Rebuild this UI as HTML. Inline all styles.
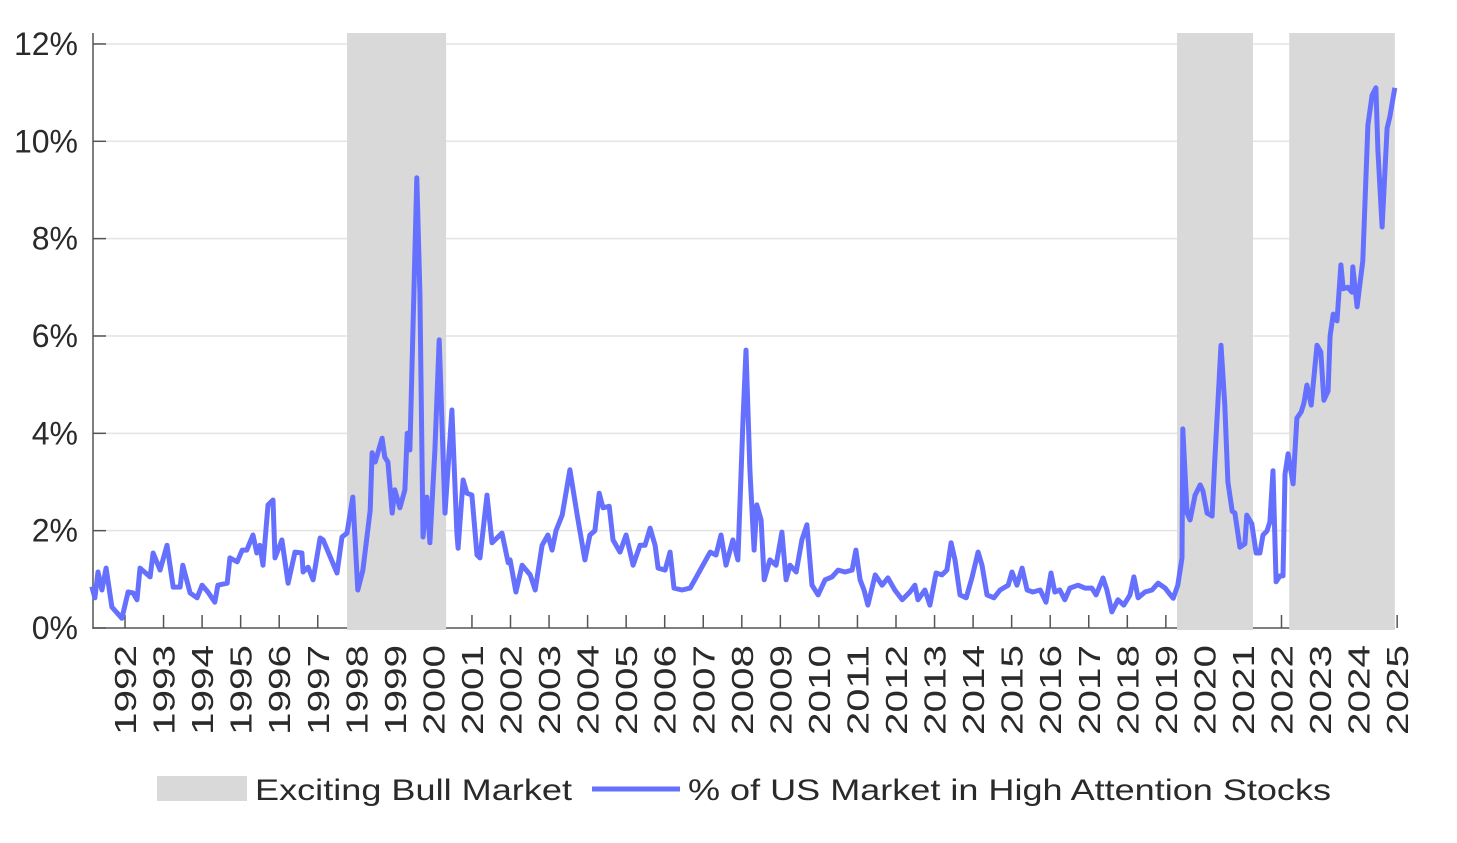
<!DOCTYPE html>
<html><head><meta charset="utf-8"><style>
html,body{margin:0;padding:0;background:#fff;}
svg{display:block;font-family:"Liberation Sans",sans-serif;}
</style></head><body>
<svg id="chart" width="1457" height="843" viewBox="0 0 1457 843"></svg>
<script>
const dates=[1991.14,1991.22,1991.30,1991.40,1991.51,1991.66,1991.92,1992.08,1992.21,1992.31,1992.39,1992.65,1992.73,1992.91,1993.09,1993.25,1993.43,1993.50,1993.69,1993.87,1994.00,1994.15,1994.33,1994.41,1994.65,1994.72,1994.91,1995.04,1995.16,1995.32,1995.42,1995.50,1995.58,1995.71,1995.84,1995.89,1996.07,1996.23,1996.41,1996.59,1996.62,1996.75,1996.88,1997.06,1997.14,1997.50,1997.63,1997.76,1997.91,1998.04,1998.17,1998.36,1998.41,1998.49,1998.67,1998.74,1998.82,1998.93,1999.00,1999.13,1999.26,1999.32,1999.39,1999.57,1999.65,1999.73,1999.83,1999.91,2000.04,2000.15,2000.30,2000.48,2000.61,2000.64,2000.77,2000.87,2001.00,2001.13,2001.21,2001.39,2001.52,2001.78,2001.94,2001.99,2002.14,2002.30,2002.51,2002.64,2002.82,2002.97,2003.08,2003.18,2003.34,2003.54,2003.73,2003.93,2004.06,2004.19,2004.30,2004.40,2004.56,2004.66,2004.84,2005.00,2005.18,2005.36,2005.49,2005.62,2005.75,2005.83,2006.01,2006.14,2006.24,2006.45,2006.66,2006.81,2006.99,2007.18,2007.33,2007.46,2007.59,2007.77,2007.90,2008.03,2008.11,2008.21,2008.32,2008.39,2008.50,2008.58,2008.73,2008.89,2009.04,2009.15,2009.25,2009.41,2009.56,2009.69,2009.82,2009.98,2010.16,2010.34,2010.50,2010.68,2010.86,2010.96,2011.07,2011.17,2011.27,2011.46,2011.64,2011.79,2011.97,2012.16,2012.36,2012.49,2012.57,2012.75,2012.88,2013.04,2013.19,2013.32,2013.43,2013.53,2013.66,2013.82,2013.97,2014.13,2014.23,2014.36,2014.54,2014.70,2014.91,2015.01,2015.14,2015.27,2015.40,2015.55,2015.74,2015.89,2016.02,2016.12,2016.25,2016.38,2016.51,2016.72,2016.90,2017.08,2017.19,2017.37,2017.47,2017.60,2017.76,2017.91,2018.07,2018.17,2018.28,2018.46,2018.64,2018.80,2018.98,2019.16,2019.19,2019.31,2019.42,2019.44,2019.55,2019.63,2019.76,2019.89,2019.96,2020.07,2020.20,2020.27,2020.43,2020.53,2020.61,2020.72,2020.79,2020.92,2021.05,2021.10,2021.23,2021.34,2021.44,2021.52,2021.62,2021.70,2021.78,2021.86,2021.96,2022.04,2022.09,2022.17,2022.30,2022.40,2022.51,2022.58,2022.66,2022.77,2022.92,2023.02,2023.10,2023.21,2023.26,2023.34,2023.44,2023.54,2023.60,2023.72,2023.83,2023.85,2023.96,2024.11,2024.24,2024.35,2024.45,2024.50,2024.61,2024.74,2024.81,2024.94];
const values=[0.85,0.62,1.15,0.78,1.23,0.43,0.2,0.74,0.72,0.58,1.23,1.05,1.54,1.19,1.7,0.84,0.84,1.29,0.72,0.62,0.88,0.74,0.53,0.88,0.92,1.44,1.36,1.6,1.6,1.91,1.54,1.7,1.29,2.53,2.63,1.44,1.81,0.92,1.56,1.54,1.15,1.25,0.99,1.85,1.81,1.13,1.87,1.95,2.69,0.78,1.19,2.42,3.6,3.41,3.9,3.51,3.41,2.36,2.84,2.47,2.84,4.0,3.66,9.25,6.88,1.87,2.69,1.75,3.66,5.92,2.36,4.48,1.95,1.64,3.04,2.77,2.73,1.5,1.44,2.73,1.75,1.95,1.34,1.4,0.74,1.29,1.09,0.78,1.7,1.91,1.6,2.0,2.32,3.25,2.32,1.4,1.91,2.0,2.77,2.47,2.5,1.81,1.56,1.91,1.29,1.7,1.7,2.05,1.7,1.23,1.19,1.56,0.82,0.78,0.82,1.03,1.29,1.56,1.5,1.91,1.29,1.81,1.4,4.27,5.71,3.25,1.6,2.53,2.22,0.99,1.4,1.29,1.97,0.99,1.29,1.15,1.81,2.12,0.88,0.68,0.99,1.05,1.19,1.15,1.19,1.6,0.99,0.78,0.47,1.09,0.88,1.03,0.78,0.58,0.74,0.88,0.58,0.78,0.47,1.13,1.09,1.19,1.75,1.4,0.68,0.62,1.03,1.56,1.29,0.68,0.62,0.78,0.88,1.15,0.88,1.23,0.78,0.74,0.78,0.53,1.13,0.74,0.78,0.58,0.82,0.88,0.82,0.82,0.68,1.03,0.78,0.33,0.58,0.47,0.68,1.05,0.62,0.74,0.78,0.92,0.82,0.64,0.61,0.88,1.44,4.09,2.36,2.22,2.73,2.94,2.82,2.36,2.3,3.45,5.81,4.58,3.0,2.4,2.36,1.66,1.73,2.32,2.14,1.54,1.54,1.91,1.99,2.18,3.23,0.95,1.07,1.07,3.16,3.58,2.96,4.31,4.44,4.62,4.99,4.58,5.81,5.67,4.68,4.87,6.0,6.45,6.31,7.46,6.97,7.0,6.9,7.42,6.6,7.54,10.33,10.95,11.1,9.82,8.24,10.27,10.5,11.1];
const bullStarts=[1997.76,2019.29,2022.20];
const bullEnds=[2000.33,2021.26,2024.94];
const yTicks=[0,2,4,6,8,10,12];
const yearTicks=[1992,1993,1994,1995,1996,1997,1998,1999,2000,2001,2002,2003,2004,2005,2006,2007,2008,2009,2010,2011,2012,2013,2014,2015,2016,2017,2018,2019,2020,2021,2022,2023,2024,2025];

const svg=document.getElementById('chart');
const NS='http://www.w3.org/2000/svg';
const X=d=>125+(d-1992)*38.55;
const Y=v=>628-v*48.67;
function mk(tag,attrs,parent){const e=document.createElementNS(NS,tag);for(const k in attrs)e.setAttribute(k,attrs[k]);(parent||svg).appendChild(e);return e;}

yTicks.forEach(t=>{if(t===0)return;
  const g=mk('line',{x1:93,x2:1395,y1:Y(t),y2:Y(t),stroke:'#e4e4e4','stroke-width':1.5});
  
  
});
const xa=mk('line',{x1:93,x2:1395,y1:628,y2:628,stroke:'#555','stroke-width':1.5});


yearTicks.forEach(y=>{
  const t=mk('line',{x1:X(y),x2:X(y),y1:628,y2:615,stroke:'#555','stroke-width':1.5});
  
  
  const lb=mk('text',{x:0,y:0,transform:`translate(${X(y)+11},${645}) rotate(-90)`,'text-anchor':'end','font-size':31,fill:'#2a2a2a',textLength:90,lengthAdjust:'spacingAndGlyphs'});
  lb.textContent=y;
  
  
});
bullStarts.forEach((s,i)=>{
  const r=mk('rect',{x:X(s),y:33,width:X(bullEnds[i])-X(s),height:597,fill:'#d9d9d9'});
  
  
});
const ya=mk('line',{x1:93,x2:93,y1:33,y2:629,stroke:'#555','stroke-width':1.5});


yTicks.forEach(t=>{
  const tk=mk('line',{x1:93,x2:106,y1:Y(t),y2:Y(t),stroke:'#555','stroke-width':1.5});
  
  
  const lb=mk('text',{x:78,y:Y(t)+11,'text-anchor':'end','font-size':32,fill:'#2a2a2a'});
  lb.textContent=t+'%';
  
  
});
const pts=dates.map((d,i)=>X(d).toFixed(1)+','+Y(values[i]).toFixed(1)).join(' ');
const line=mk('polyline',{points:pts,fill:'none',stroke:'#6670ff','stroke-width':5,'stroke-linejoin':'round'});



const lg=mk('g',{});


const lr=mk('rect',{x:157,y:776,width:90,height:25,fill:'#d9d9d9'},lg);


const lt1=mk('text',{x:255,y:800,'font-size':30,fill:'#2a2a2a',textLength:317,lengthAdjust:'spacingAndGlyphs'},lg);
lt1.textContent='Exciting Bull Market';


const ll=mk('line',{x1:592,x2:680,y1:789,y2:789,stroke:'#6670ff','stroke-width':5},lg);


const lt2=mk('text',{x:688,y:800,'font-size':30,fill:'#2a2a2a',textLength:643,lengthAdjust:'spacingAndGlyphs'},lg);
lt2.textContent='% of US Market in High Attention Stocks';


</script>
</body></html>
